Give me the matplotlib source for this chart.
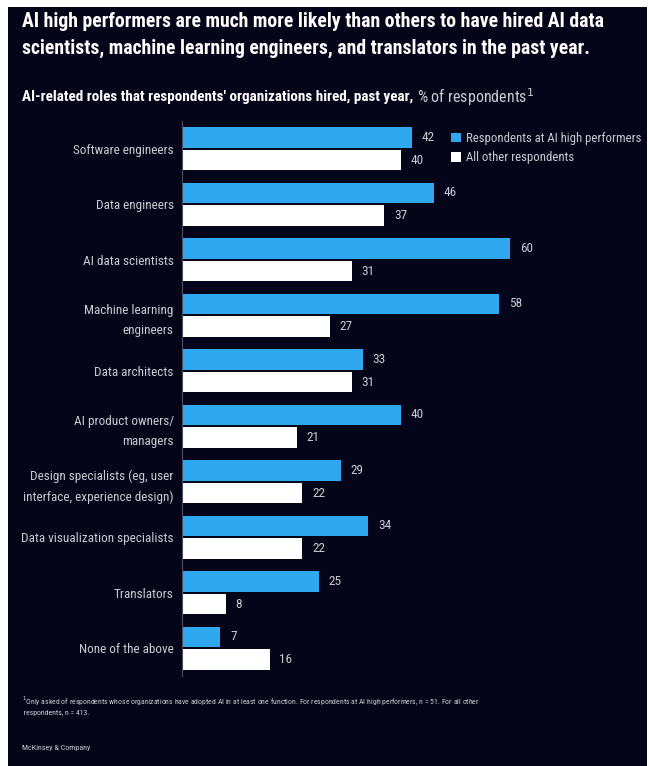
import numpy as np
import matplotlib
matplotlib.use('Agg')
from matplotlib import pyplot as plt
from matplotlib.patches import Rectangle

plt.rcParams['font.family'] = ['Roboto Condensed', 'Archivo Narrow', 'Asap Condensed',
                               'Liberation Sans', 'DejaVu Sans']

roles = ['Software engineers', 'Data engineers', 'AI data scientists',
         'Machine learning\nengineers', 'Data architects', 'AI product owners/\nmanagers',
         'Design specialists (eg, user\ninterface, experience design)',
         'Data visualization specialists', 'Translators', 'None of the above']
high_perf = [42, 46, 60, 58, 33, 40, 29, 34, 25, 7]
others = [40, 37, 31, 27, 31, 21, 22, 22, 8, 16]
series_names = ['Respondents at AI high performers', 'All other respondents']

BG = '#05051a'
BLUE = '#2fa8f0'
GRAY = '#c9cbd3'

W, H = 649, 766
fig = plt.figure(figsize=(W / 100, H / 100), dpi=100)
fig.patch.set_facecolor('white')
# dunkles Feld
fig.patches.append(Rectangle((8 / W, 0), (647 - 8) / W, 1 - 7 / H, transform=fig.transFigure,
                             facecolor=BG, edgecolor='none', zorder=-10))

ax = fig.add_axes([182 / W, 1 - 676 / H, (640 - 182) / W, 555 / H])
ax.set_facecolor('none')
y = np.arange(len(roles))
off, h = 0.205, 0.37
b1 = ax.barh(y - off, high_perf, height=h, color=BLUE, label=series_names[0])
b2 = ax.barh(y + off, others, height=h, color='white', label=series_names[1])
ax.set_xlim(0, 458 / 5.47)
ax.set_ylim(len(roles) - 0.5, -0.5)

for yy, v in zip(y - off, high_perf):
    ax.text(v + 1.8, yy, str(v), va='center', ha='left', color=GRAY, fontsize=9.5)
for yy, v in zip(y + off, others):
    ax.text(v + 1.8, yy, str(v), va='center', ha='left', color=GRAY, fontsize=9.5)

ax.set_yticks(y)
ax.set_yticklabels(roles, color=GRAY, fontsize=9.5, linespacing=1.7)
ax.tick_params(axis='y', length=0, pad=6)
ax.set_xticks([])
for s in ['top', 'right', 'bottom']:
    ax.spines[s].set_visible(False)
ax.spines['left'].set_color('#4a4e62')
ax.spines['left'].set_linewidth(0.8)

leg = ax.legend(handles=[b1, b2], loc='upper left', bbox_to_anchor=(451 / W, 1 - 132 / H),
                bbox_transform=fig.transFigure, frameon=False, fontsize=9.2,
                handlelength=0.75, handleheight=0.75, handletextpad=0.4,
                labelspacing=0.5, borderpad=0, borderaxespad=0)
for t in leg.get_texts():
    t.set_color(GRAY)

fig.text(22 / W, 1 - 12 / H,
         'AI high performers are much more likely than others to have hired AI data\n'
         'scientists, machine learning engineers, and translators in the past year.',
         color='white', fontsize=14.2, fontweight='bold', va='top', ha='left', linespacing=1.5)
sub = fig.text(22 / W, 1 - 97 / H, "AI-related roles that respondents' organizations hired, past year,",
               color='white', fontsize=10.9, fontweight='bold', va='center', ha='left')
fig.canvas.draw()
bb = sub.get_window_extent()
fig.text((bb.x1 + 4) / W, 1 - 97 / H, '% of respondents$^{1}$', color=GRAY, fontsize=11.5,
         va='center', ha='left')

fig.text(22 / W, 1 - 695 / H,
         '$^{1}$Only asked of respondents whose organizations have adopted AI in at least one function. '
         'For respondents at AI high performers, n = 51. For all other\n respondents, n = 413.',
         color=GRAY, fontsize=5.6, va='top', ha='left', linespacing=1.35)
fig.text(22 / W, 1 - 748 / H, 'McKinsey & Company', color=GRAY, fontsize=5.8,
         va='center', ha='left')

fig.savefig('out.png', dpi=100, facecolor=fig.get_facecolor())
